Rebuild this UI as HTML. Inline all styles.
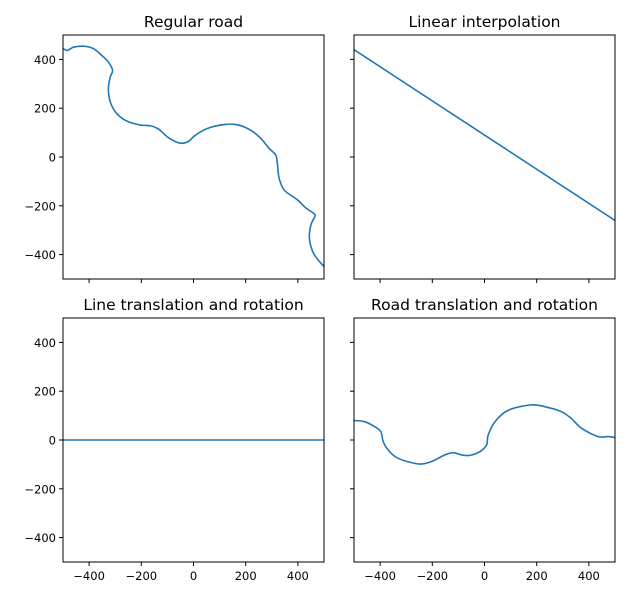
<!DOCTYPE html>
<html><head><meta charset="utf-8"><style>
body{margin:0;background:#fff}
svg{display:block;font-family:"DejaVu Sans","Liberation Sans",sans-serif}
</style></head><body>
<svg id="fig" width="640" height="600"></svg>
<script>
const roadX=[-499,-483,-460,-422,-383,-351,-326,-310,-319,-326,-319,-294,-255,-204,-165,-133,-101,-69,-44,-18,8,53,117,168,219,258,290,315,322,328,347,386,405,431,463,465,450,444,456,476,501];
const roadY=[444,437,450,454,444,416,389,355,328,280,226,178,147,131,128,114,83,63,56,65,90,117,133,132,110,76,35,8,-33,-87,-135,-166,-182,-209,-233,-244,-278,-332,-386,-420,-450];
const linX=[-500,500];
const linY=[440,-260];
const lineX=[-500,500];
const lineY=[0,0];
const rtX=[-500,-459,-420,-397,-388,-369,-331,-254,-203,-152,-120,-88,-56,-18,8,14,40,91,180,244,295,333,372,435,474,499];
const rtY=[80,75,54,34,-7,-41,-75,-98,-88,-61,-52,-61,-63,-48,-20,20,75,122,144,133,116,88,48,14,14,10];
const ticks=[-400,-200,0,200,400];
const panels=[
 {t:"Regular road",x0:63,y0:35,xs:roadX,ys:roadY,yl:true,xl:false,n:"regular-road"},
 {t:"Linear interpolation",x0:354,y0:35,xs:linX,ys:linY,yl:false,xl:false,n:"linear-interpolation"},
 {t:"Line translation and rotation",x0:63,y0:318,xs:lineX,ys:lineY,yl:true,xl:true,n:"line-translation"},
 {t:"Road translation and rotation",x0:354,y0:318,xs:rtX,ys:rtY,yl:false,xl:true,n:"road-translation"}];
const W=261,H=244,NS="http://www.w3.org/2000/svg",svg=document.getElementById('fig');
function mk(t,a,p){const e=document.createElementNS(NS,t);for(const k in a)e.setAttribute(k,a[k]);(p||svg).appendChild(e);return e;}
panels.forEach(P=>{
 const g=mk('g',{});
 
 
 const sx=v=>P.x0+(v+500)/1000*W, sy=v=>P.y0+(500-v)/1000*H;
 const cp=mk('clipPath',{id:'c'+P.n},g);mk('rect',{x:P.x0,y:P.y0,width:W,height:H},cp);
 const pts=P.xs.map((x,i)=>[sx(x),sy(P.ys[i])]);
 let d='M'+pts[0][0]+','+pts[0][1];
 for(let i=0;i<pts.length-1;i++){const p0=pts[Math.max(0,i-1)],p1=pts[i],p2=pts[i+1],p3=pts[Math.min(pts.length-1,i+2)];
  d+=' C'+(p1[0]+(p2[0]-p0[0])/6)+','+(p1[1]+(p2[1]-p0[1])/6)+' '+(p2[0]-(p3[0]-p1[0])/6)+','+(p2[1]-(p3[1]-p1[1])/6)+' '+p2[0]+','+p2[1];}
 const ln=mk('path',{d:d,fill:'none',stroke:'#1f77b4','stroke-width':1.6,'clip-path':'url(#c'+P.n+')'},g);
 
 
 mk('rect',{x:P.x0,y:P.y0,width:W,height:H,fill:'none',stroke:'#000','stroke-width':1},g);
 ticks.forEach(v=>{
  mk('line',{x1:sx(v),x2:sx(v),y1:P.y0+H,y2:P.y0+H+4,stroke:'#000'},g);
  mk('line',{x1:P.x0-4,x2:P.x0,y1:sy(v),y2:sy(v),stroke:'#000'},g);
  if(P.xl){const t=mk('text',{x:sx(v),y:P.y0+H+18,'text-anchor':'middle','font-size':11.5},g);t.textContent=v<0?'\u2212'+(-v):v;
   }
  if(P.yl){const t=mk('text',{x:P.x0-7,y:sy(v)+4.5,'text-anchor':'end','font-size':11.5},g);t.textContent=v<0?'\u2212'+(-v):v;
   }
 });
 const tt=mk('text',{x:P.x0+W/2,y:P.y0-8,'text-anchor':'middle','font-size':15.5},g);tt.textContent=P.t;
 
 
});
</script>
</body></html>
